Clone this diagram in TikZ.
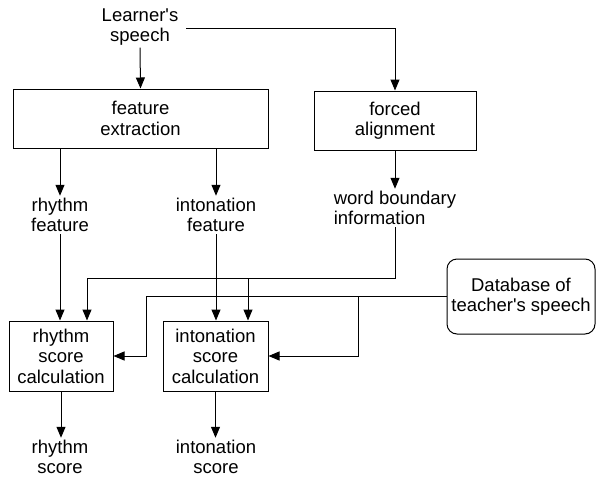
\documentclass[tikz,border=0pt]{standalone}
\usepackage{fontspec}
\setmainfont{Liberation Sans}
\usetikzlibrary{arrows.meta}
\begin{document}
\begin{tikzpicture}[x=1pt,y=-1pt,
  font=\fontsize{18.5}{20.5}\selectfont,
  lbl/.style={align=center,inner sep=2pt},
  boxnode/.style={draw,line width=1pt,inner sep=0pt,align=center},
  arr/.style={line width=1pt,-{Triangle[length=11pt,width=9pt]}},
  ln/.style={line width=1pt}]
\useasboundingbox (0,0) rectangle (596,479);
% texts
\node[lbl] (ls) at (140,27) {Learner\textquotesingle s\\speech};
\node[lbl] (rf) at (60,215) {rhythm\\feature};
\node[lbl] (itf) at (216,215) {intonation\\feature};
\node[lbl,align=left] (wb) at (395,208) {word boundary\\information};
\node[lbl] (rsc) at (60,457) {rhythm\\score};
\node[lbl] (isc) at (216,457) {intonation\\score};
% boxes
\node[boxnode,minimum width=255pt,minimum height=59pt] (fe) at (140.5,118.5) {feature\\extraction};
\node[boxnode,minimum width=162pt,minimum height=59pt] (fa) at (395,120.5) {forced\\alignment};
\node[boxnode,minimum width=104pt,minimum height=70pt] (rs) at (61,356) {rhythm\\score\\calculation};
\node[boxnode,minimum width=105pt,minimum height=70pt] (is) at (215.5,356) {intonation\\score\\calculation};
\node[boxnode,rounded corners=10pt,minimum width=148pt,minimum height=75pt] (db) at (521,296.5) {Database of\\teacher\textquotesingle s speech};
% helper coordinates
\coordinate (h1) at (0,278);
\coordinate (v1) at (146,0);
\coordinate (v2) at (358,0);
\coordinate (rsA) at ([xshift=26pt]rs.north);
\coordinate (isA) at ([xshift=32.5pt]is.north);
\coordinate (lsE) at ([xshift=6pt,yshift=-1pt]ls.east);
% connectors
\draw[arr] (ls.south) -- (fe.north);
\draw[arr] (lsE) -| (fa.north);
\draw[arr] (rf.north |- fe.south) -- (rf.north);
\draw[arr] (itf.north |- fe.south) -- (itf.north);
\draw[arr] (fa.south) -- (wb.north);
\draw[arr] (rf.south) -- (rf.south |- rs.north);
\draw[arr] (itf.south) -- (itf.south |- is.north);
\draw[arr] (wb.south) -- (wb.south |- h1) -| (rsA);
\draw[arr] (isA |- h1) -- (isA);
\draw[arr] (db.west) -| (v1 |- rs.east) -- (rs.east);
\draw[arr] (v2 |- db.west) |- (is.east);
\draw[arr] (rs.south) -- (rs.south |- rsc.north);
\draw[arr] (is.south) -- (is.south |- isc.north);
\end{tikzpicture}
\end{document}
